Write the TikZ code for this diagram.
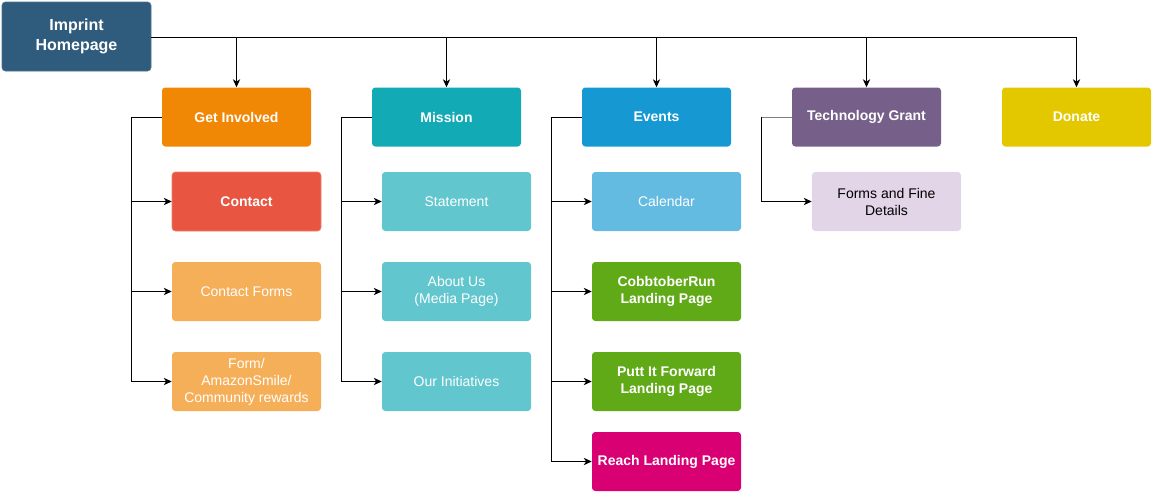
\documentclass[tikz,border=0pt]{standalone}
\usepackage{fontspec}
\setmainfont{Liberation Sans}
\usetikzlibrary{arrows.meta}
\definecolor{homec}{HTML}{2F5B7C}
\definecolor{orangec}{HTML}{F08705}
\definecolor{tealc}{HTML}{12AAB5}
\definecolor{bluec}{HTML}{1699D3}
\definecolor{purplec}{HTML}{76608A}
\definecolor{yellowc}{HTML}{E3C800}
\definecolor{redc}{HTML}{E85642}
\definecolor{lorangec}{HTML}{F5AF58}
\definecolor{lteal}{HTML}{61C6CE}
\definecolor{lblue}{HTML}{64BBE2}
\definecolor{greenc}{HTML}{60A917}
\definecolor{pinkc}{HTML}{D80073}
\definecolor{lpurple}{HTML}{E1D5E7}
\tikzset{
  box/.style={rounded corners=2.5pt, minimum width=111.75pt, minimum height=44.25pt, align=center, inner sep=2pt, font=\fontsize{10.5pt}{12.75pt}\selectfont, text=white},
  bbox/.style={box, font=\fontsize{10.5pt}{12.75pt}\selectfont\bfseries},
  conn/.style={line width=0.75pt, black},
  arr/.style={conn, -{Stealth[length=6pt,width=5.5pt,inset=1.8pt]}},
}
\begin{document}
\begin{tikzpicture}[x=0.75pt,y=-0.75pt]
\useasboundingbox (0,0) rectangle (1154,493);
% top
\node[bbox, fill=homec, draw=homec!85!white, minimum width=111.75pt, minimum height=51.75pt, font=\fontsize{12pt}{15pt}\selectfont\bfseries] (home) at (76.5,36.5) {Imprint\\Homepage};
\node[bbox, fill=orangec] (gi) at (236.5,117) {Get Involved};
\node[bbox, fill=tealc] (mis) at (446.5,117) {Mission};
\node[bbox, fill=bluec] (ev) at (656.5,117) {Events};
\node[bbox, fill=purplec] (tg) at (866.5,117) {Technology Grant};
\node[bbox, fill=yellowc] (don) at (1076.5,117) {Donate};
% children
\node[bbox, fill=redc, draw=redc!75!white] (con) at (246.5,201.5) {Contact};
\node[box, fill=lorangec] (cf) at (246.5,291.5) {Contact Forms};
\node[box, fill=lorangec] (form) at (246.5,381.5) {Form/\\AmazonSmile/\\Community rewards};
\node[box, fill=lteal] (st) at (456.5,201.5) {Statement};
\node[box, fill=lteal] (ab) at (456.5,291.5) {About Us\\(Media Page)};
\node[box, fill=lteal] (oi) at (456.5,381.5) {Our Initiatives};
\node[box, fill=lblue] (cal) at (666.5,201.5) {Calendar};
\node[bbox, fill=greenc] (cob) at (666.5,291.5) {CobbtoberRun\\Landing Page};
\node[bbox, fill=greenc] (putt) at (666.5,381.5) {Putt It Forward\\Landing Page};
\node[bbox, fill=pinkc] (reach) at (666.5,461.5) {Reach Landing Page};
\node[box, fill=lpurple, text=black] (ffd) at (886.5,201.5) {Forms and Fine\\Details};
% trunk
\coordinate (tr) at (don.north |- 0,37);
\draw[conn] (home.east |- 0,37) -- (tr);
\foreach \n in {gi,mis,ev,tg,don}{
  \draw[arr] (\n.north |- 0,37) -- (\n.north);
}
% branches
\draw[conn] (gi.west) -- ++(-30,0) coordinate (gix);
\draw[arr] (gix) |- (con.west);
\draw[arr] (gix) |- (cf.west);
\draw[arr] (gix) |- (form.west);
\draw[conn] (mis.west) -- ++(-30,0) coordinate (mix);
\draw[arr] (mix) |- (st.west);
\draw[arr] (mix) |- (ab.west);
\draw[arr] (mix) |- (oi.west);
\draw[conn] (ev.west) -- ++(-30,0) coordinate (evx);
\draw[arr] (evx) |- (cal.west);
\draw[arr] (evx) |- (cob.west);
\draw[arr] (evx) |- (putt.west);
\draw[arr] (evx) |- (reach.west);
\draw[conn, draw=gray] (tg.west) -- ++(-30,0) coordinate (tgx);
\draw[arr] (tgx) |- (ffd.west);
\end{tikzpicture}
\end{document}
